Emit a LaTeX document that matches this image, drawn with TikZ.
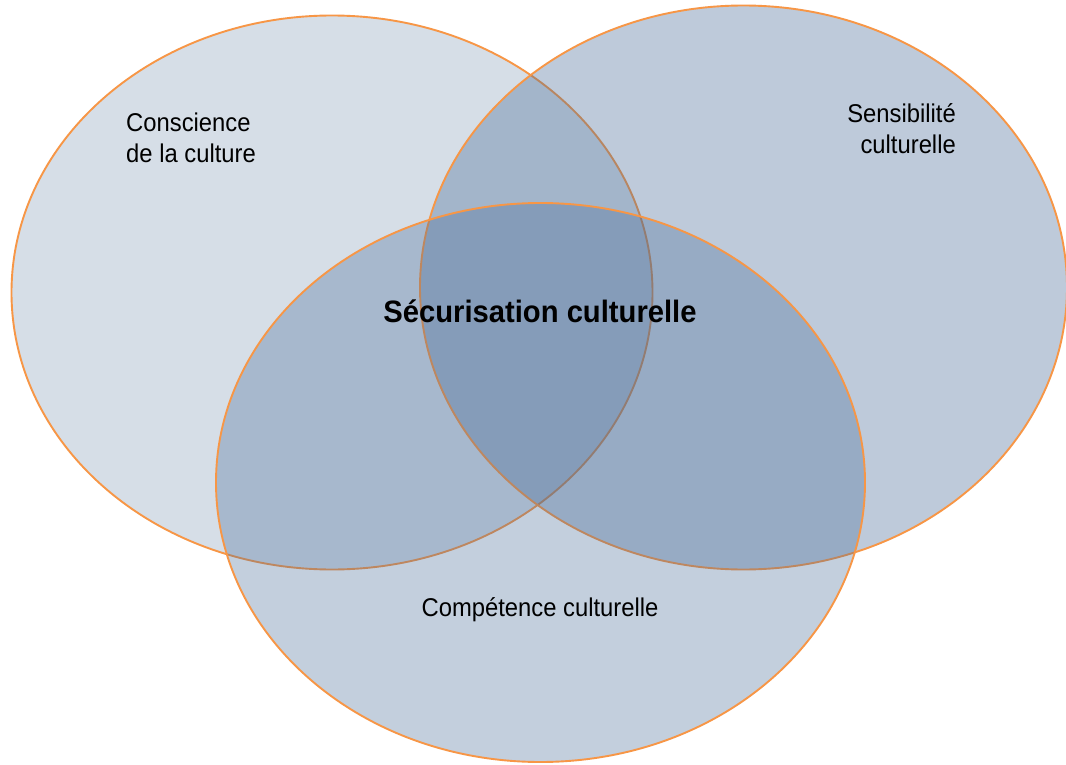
\documentclass[tikz,border=0pt]{standalone}
\usepackage{fontspec}
\setmainfont{Liberation Sans}
\usetikzlibrary{shapes.geometric}
\definecolor{vennfill}{RGB}{69,105,150}
\definecolor{vennline}{RGB}{247,150,70}
\tikzset{
  venn/.style={ellipse, inner sep=0pt, outer sep=0pt, draw=vennline, line width=1.9pt, fill=vennfill},
  lbl/.style={inner sep=0pt, text=black, font=\fontsize{23.8}{28}\selectfont, yscale=1.08, transform shape},
  lblbold/.style={inner sep=0pt, text=black, font=\fontsize{29.2}{34}\selectfont\bfseries, yscale=1.06, transform shape}
}
\begin{document}
\begin{tikzpicture}[x=1pt,y=-1pt]
\useasboundingbox (0,0) rectangle (1066,765);
\fill[white] (0,0) rectangle (1066,765);
\node[venn, fill opacity=0.22, minimum width=641pt, minimum height=554pt] (cons) at (332,292.5) {};
\node[venn, fill opacity=0.35, minimum width=647pt, minimum height=564pt] (sens) at (743.5,287.5) {};
\node[venn, fill opacity=0.317, minimum width=649pt, minimum height=559pt] (comp) at (540.5,482.5) {};
\node[lbl, anchor=base west] (cons1) at (126,132) {Conscience};
\node[lbl, anchor=base west] (cons2) at (126,163) {de la culture};
\node[lbl, anchor=base east] (sens1) at (956,123) {Sensibilité};
\node[lbl, anchor=base east] (sens2) at (956,154) {culturelle};
\node[lblbold, anchor=base] (secu) at (540,322) {Sécurisation culturelle};
\node[lbl, anchor=base] (compt) at (540,616) {Compétence culturelle};
\end{tikzpicture}
\end{document}
